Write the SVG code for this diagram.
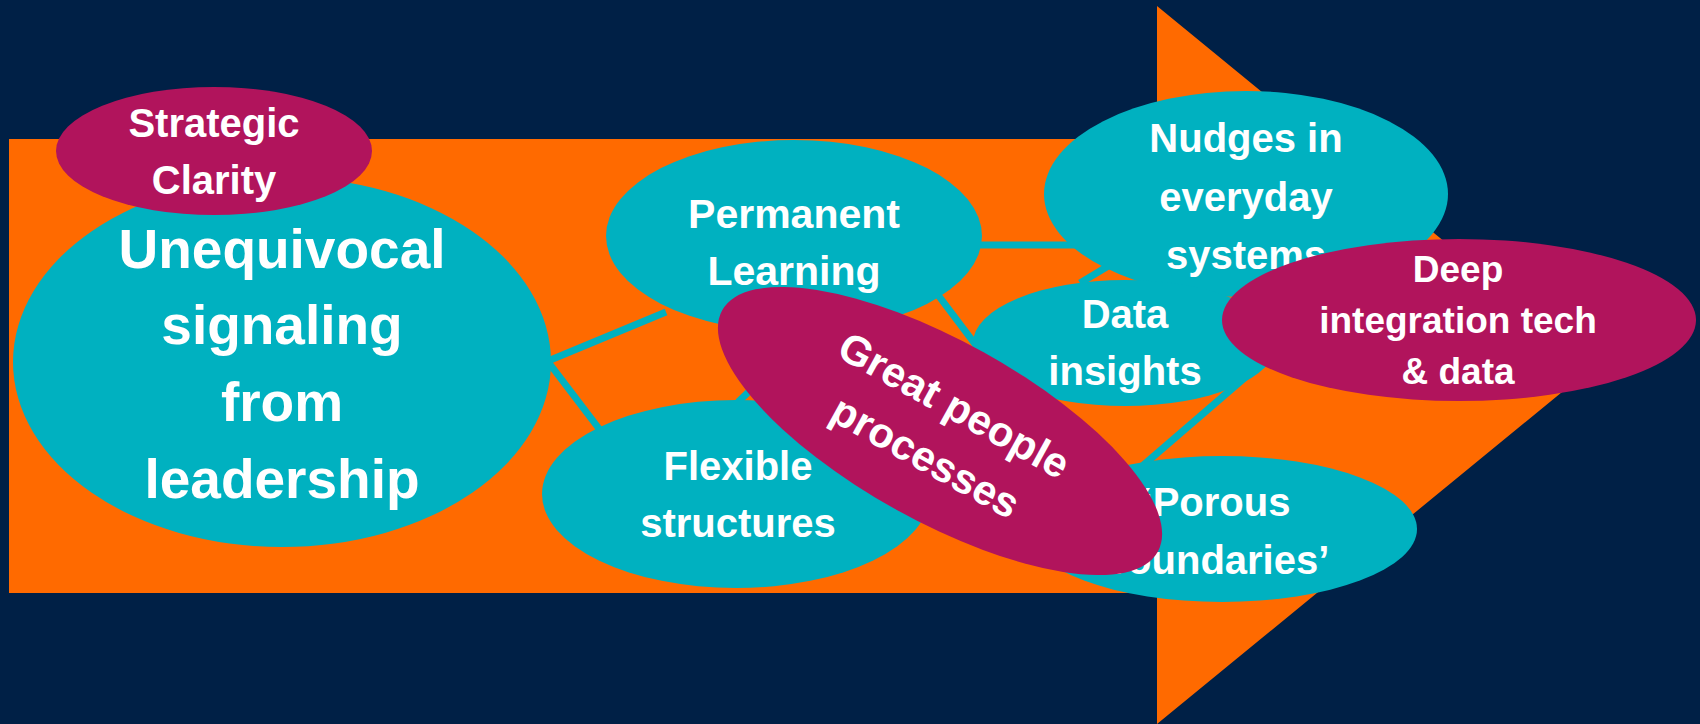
<svg xmlns="http://www.w3.org/2000/svg" width="1700" height="724" viewBox="0 0 1700 724">
<style>
.teal{fill:#00B1C0}
.mag{fill:#B1145C}
.t{font-family:"Liberation Sans",Arial,sans-serif;font-weight:bold;fill:#FFFFFF;text-anchor:middle}
.s40{font-size:40px}
.s55{font-size:55px}
.s37{font-size:37px}
.con line{stroke:#00B1C0;stroke-width:7;stroke-linecap:butt}
</style>
<rect x="0" y="0" width="1700" height="724" fill="#002046"/>
<g id="arrow">
<polygon points="9,139 1157,139 1157,6 1595,365 1157,724 1157,593 9,593" fill="#FF6A00"/>
</g>
<g id="connectors" class="con">
<line x1="548" y1="361" x2="666" y2="312"/>
<line x1="549" y1="363" x2="600" y2="430"/>
<line x1="738" y1="402" x2="815" y2="329"/>
<line x1="975" y1="245" x2="1075" y2="245"/>
<line x1="932" y1="287" x2="978" y2="348"/>
<line x1="1080" y1="283" x2="1110" y2="265"/>
<line x1="1140" y1="468" x2="1270" y2="356"/>
</g>
<g id="unequivocal">
<ellipse class="teal" cx="282" cy="362" rx="269" ry="185"/>
<text class="t s55" x="282" y="268">Unequivocal</text>
<text class="t s55" x="282" y="344">signaling</text>
<text class="t s55" x="282" y="421">from</text>
<text class="t s55" x="282" y="498">leadership</text>
</g>
<g id="strategic">
<ellipse class="mag" cx="214" cy="151" rx="158" ry="64"/>
<text class="t s40" x="214" y="137">Strategic</text>
<text class="t s40" x="214" y="194">Clarity</text>
</g>
<g id="permanent">
<ellipse class="teal" cx="794" cy="236" rx="188" ry="96"/>
<text class="t" style="font-size:41px" x="794" y="228">Permanent</text>
<text class="t" style="font-size:41px" x="794" y="285">Learning</text>
</g>
<g id="flexible">
<ellipse class="teal" cx="736" cy="494" rx="194" ry="94"/>
<text class="t s40" x="738" y="480">Flexible</text>
<text class="t s40" x="738" y="537">structures</text>
</g>
<g id="nudges">
<ellipse class="teal" cx="1246" cy="194" rx="202" ry="103"/>
<text class="t s40" x="1246" y="152">Nudges in</text>
<text class="t s40" x="1246" y="211">everyday</text>
<text class="t s40" x="1246" y="269">systems</text>
</g>
<g id="data">
<ellipse class="teal" cx="1125" cy="343" rx="152" ry="63"/>
<text class="t s40" x="1125" y="328">Data</text>
<text class="t s40" x="1125" y="385">insights</text>
</g>
<g id="porous">
<ellipse class="teal" cx="1222" cy="529" rx="195" ry="73"/>
<text class="t s40" x="1216" y="516">‘Porous</text>
<text class="t s40" x="1216" y="574">boundaries’</text>
</g>
<g id="great">
<g transform="translate(940,431) rotate(29)">
<ellipse class="mag" cx="0" cy="0" rx="249" ry="90"/>
<text class="t" style="font-size:42px" x="0" y="-15">Great people</text>
<text class="t" style="font-size:42px" x="0" y="44">processes</text>
</g>
</g>
<g id="deep">
<ellipse class="mag" cx="1459" cy="320" rx="237" ry="81"/>
<text class="t s37" x="1458" y="282">Deep</text>
<text class="t s37" x="1458" y="333">integration tech</text>
<text class="t s37" x="1458" y="384">&amp; data</text>
</g>
</svg>
